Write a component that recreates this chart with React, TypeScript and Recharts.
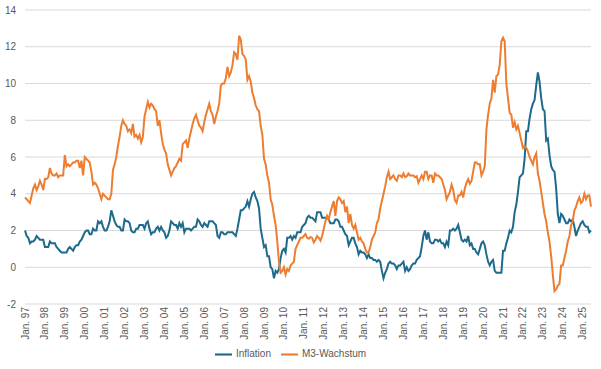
import React from 'react';
import { LineChart, Line, XAxis, YAxis, CartesianGrid, Legend } from 'recharts';

const startYear = 1997;
const monthAbbr = ['Jan.', 'Feb.', 'Mär.', 'Apr.', 'Mai', 'Jun.', 'Jul.', 'Aug.', 'Sep.', 'Okt.', 'Nov.', 'Dez.'];
const yTicks = [-2, 0, 2, 4, 6, 8, 10, 12, 14];

// Monthly values Jan 1997 – Jun 2025 (percent, y/y)
const inflation = [
  2.0, 1.7, 1.6, 1.3, 1.4, 1.4, 1.5, 1.7, 1.6, 1.5, 1.5, 1.5,
  1.1, 1.1, 1.1, 1.4, 1.3, 1.3, 1.3, 1.1, 1.0, 0.9, 0.8, 0.8,
  0.8, 0.8, 1.0, 1.1, 1.0, 0.9, 1.1, 1.2, 1.2, 1.4, 1.5, 1.7,
  1.9, 2.0, 2.0, 1.8, 1.8, 2.1, 2.0, 2.0, 2.5, 2.4, 2.5, 2.2,
  2.0, 2.0, 2.2, 2.5, 3.1, 2.8, 2.5, 2.3, 2.2, 2.2, 2.0, 2.0,
  2.6, 2.5, 2.5, 2.4, 2.0, 1.9, 1.9, 2.1, 2.1, 2.3, 2.3, 2.3,
  2.1, 2.4, 2.5, 2.1, 1.8, 1.9, 1.9, 2.1, 2.2, 2.0, 2.2, 2.0,
  1.9, 1.6, 1.7, 2.0, 2.5, 2.4, 2.3, 2.3, 2.1, 2.4, 2.2, 2.4,
  1.9, 2.1, 2.1, 2.1, 2.0, 2.1, 2.2, 2.2, 2.6, 2.5, 2.3, 2.2,
  2.4, 2.3, 2.2, 2.5, 2.5, 2.5, 2.4, 2.3, 1.7, 1.6, 1.9, 1.9,
  1.8, 1.8, 1.9, 1.9, 1.9, 1.9, 1.8, 1.7, 2.1, 2.6, 3.1, 3.1,
  3.2, 3.3, 3.6, 3.3, 3.7, 4.0, 4.1, 3.8, 3.6, 3.2, 2.1, 1.6,
  1.1, 1.2, 0.6, 0.6, 0.0, -0.1, -0.6, -0.2, -0.3, -0.1, 0.5, 0.9,
  1.0, 0.8, 1.6, 1.6, 1.7, 1.5, 1.7, 1.6, 1.9, 1.9, 1.9, 2.2,
  2.3, 2.4, 2.7, 2.8, 2.7, 2.7, 2.6, 2.5, 3.0, 3.0, 3.0, 2.7,
  2.7, 2.7, 2.7, 2.6, 2.4, 2.4, 2.4, 2.6, 2.6, 2.5, 2.2, 2.2,
  2.0, 1.8, 1.7, 1.2, 1.4, 1.6, 1.6, 1.3, 1.1, 0.7, 0.9, 0.8,
  0.8, 0.7, 0.5, 0.7, 0.5, 0.5, 0.4, 0.4, 0.3, 0.4, 0.3, -0.2,
  -0.6, -0.3, -0.1, 0.2, 0.3, 0.2, 0.2, 0.1, -0.1, 0.1, 0.1, 0.2,
  0.3, -0.2, 0.0, -0.2, -0.1, 0.1, 0.2, 0.2, 0.4, 0.5, 0.6, 1.1,
  1.7, 2.0, 1.5, 1.9, 1.4, 1.3, 1.3, 1.5, 1.5, 1.4, 1.5, 1.3,
  1.3, 1.1, 1.4, 1.2, 2.0, 2.0, 2.1, 2.0, 2.1, 2.3, 1.9, 1.5,
  1.4, 1.5, 1.4, 1.7, 1.2, 1.3, 1.0, 1.0, 0.8, 0.7, 1.0, 1.3,
  1.4, 1.2, 0.7, 0.3, 0.1, 0.3, 0.4, -0.2, -0.3, -0.3, -0.3, -0.3,
  0.9, 0.9, 1.3, 1.6, 2.0, 1.9, 2.2, 3.0, 3.4, 4.1, 4.9, 5.0,
  5.1, 5.9, 7.4, 7.4, 8.1, 8.6, 8.9, 9.1, 9.9, 10.6, 10.1, 9.2,
  8.6, 8.5, 6.9, 7.0, 6.1, 5.5, 5.3, 5.2, 4.3, 2.9, 2.4, 2.9,
  2.8, 2.6, 2.4, 2.4, 2.6, 2.5, 2.6, 2.2, 1.7, 2.0, 2.2, 2.4,
  2.5, 2.3, 2.2, 2.2, 1.9, 2.0,
];

const m3Growth = [
  3.8, 3.7, 3.6, 3.5, 3.9, 4.3, 4.5, 4.2, 4.4, 4.7, 4.5, 4.2,
  4.8, 4.8, 4.9, 5.4, 5.1, 5.0, 5.0, 5.1, 4.9, 5.0, 5.0, 5.0,
  6.1, 5.5, 5.6, 5.5, 5.6, 5.7, 5.7, 5.8, 5.8, 5.4, 5.8, 5.0,
  6.0, 5.9, 5.8, 5.7, 5.2, 4.5, 4.6, 4.5, 4.3, 4.0, 3.7, 4.0,
  3.9, 3.8, 3.7, 3.7, 4.0, 5.3, 5.6, 6.0, 6.6, 7.1, 7.7, 8.0,
  7.8, 7.7, 7.4, 7.5, 7.3, 7.8, 7.1, 7.2, 7.0, 7.2, 6.8, 7.1,
  8.2, 8.6, 9.0, 8.7, 8.9, 8.8, 8.6, 8.5, 7.7, 8.0, 7.3, 6.7,
  6.4, 6.2, 5.6, 5.3, 5.0, 5.2, 5.4, 5.5, 5.7, 5.9, 5.8, 6.7,
  6.8, 6.9, 6.5, 7.0, 7.4, 7.8, 8.1, 8.3, 8.0, 7.7, 7.6, 7.4,
  7.9, 8.3, 8.6, 8.9, 8.5, 8.3, 7.8, 8.2, 8.5, 8.9, 9.9, 10.0,
  10.0, 10.3, 10.9, 10.4, 10.6, 11.0, 11.7, 11.6, 11.3, 12.6, 12.4, 11.6,
  11.5, 11.3, 10.2, 10.4, 10.1, 9.5, 9.2, 8.8, 8.6, 8.5, 7.7, 7.2,
  5.9, 5.6, 5.0, 4.6, 3.7, 3.4, 2.8, 2.3, 1.4, 0.3, -0.3, -0.2,
  0.0, -0.4, -0.1, -0.2, 0.1, 0.2, 0.3, 1.0, 1.2, 1.4, 1.6, 1.6,
  1.7, 1.8, 1.6, 1.55, 1.65, 1.6, 1.35, 1.5, 1.7, 1.6, 1.45, 1.7,
  2.1, 2.5, 2.8, 2.6, 3.0, 3.3, 3.6, 2.8, 3.6, 3.8, 3.7, 3.5,
  3.6, 3.0, 3.3, 2.4, 2.9, 2.3, 2.1, 2.3, 1.9, 1.5, 1.6, 1.4,
  1.3, 1.0, 0.8, 0.8, 1.1, 1.5, 1.7, 1.9, 2.4, 2.6, 3.2, 3.6,
  4.0, 4.4, 4.9, 5.2, 4.8, 4.9, 5.0, 4.8, 4.7, 5.0, 5.0, 4.9,
  5.1, 4.9, 4.95, 5.1, 5.0, 5.0, 5.0, 4.9, 4.95, 4.6, 4.8, 5.0,
  4.8, 5.2, 5.2, 4.8, 5.0, 5.0, 4.6, 5.1, 5.0, 5.0, 4.9, 4.8,
  4.5, 4.2, 3.7, 3.9, 4.1, 4.5, 4.2, 3.65, 3.5, 3.9, 3.9, 4.1,
  3.8, 4.3, 4.6, 4.8, 4.55, 4.7, 5.2, 5.7, 5.7, 5.6, 5.6, 5.0,
  5.2, 5.5, 7.5, 8.3, 8.9, 9.2, 10.2, 9.5, 10.4, 10.5, 11.0, 12.3,
  12.5, 12.3, 10.0, 9.2, 8.4, 8.3, 7.6, 7.9, 7.5, 7.7, 7.3, 6.9,
  6.5, 6.6, 6.5, 6.3, 6.0, 5.8, 5.6, 6.0, 6.2, 5.1, 4.7, 4.1,
  3.5, 2.9, 2.5, 1.9, 1.4, 0.6, -0.4, -1.3, -1.2, -1.0, -0.9, 0.1,
  0.1, 0.5, 0.9, 1.4, 1.7, 2.3, 2.5, 3.1, 3.3, 3.6, 3.8, 3.5,
  3.6, 4.0, 3.7, 3.9, 3.9, 3.3,
];

const data = inflation.map((v, i) => ({
  label: `${monthAbbr[i % 12]} ${String((startYear + Math.floor(i / 12)) % 100).padStart(2, '0')}`,
  inflation: v,
  m3: m3Growth[i],
}));

const FONT = '"Liberation Sans", Arial, sans-serif';
const TEXT = '#595959';

const RotatedTick = (props: any) => {
  const { x, y, payload } = props;
  return (
    <g transform={`translate(${x},${y})`}>
      <text
        transform="rotate(-90)"
        x={0}
        y={0}
        dy="0.35em"
        textAnchor="end"
        fontSize={10}
        fontFamily={FONT}
        fill={TEXT}
      >
        {payload.value}
      </text>
    </g>
  );
};

export default function App() {
  return (
    <div style={{ position: 'absolute', left: 0, top: 0, width: 601, height: 369, background: '#fff' }}>
      <LineChart
        width={601}
        height={369}
        data={data}
        margin={{ top: 10, right: 10, left: 0, bottom: 6 }}
      >
        <CartesianGrid vertical={false} stroke="#d9d9d9" strokeWidth={1} />
        <XAxis
          dataKey="label"
          interval={11}
          axisLine={false}
          tickLine={false}
          tickSize={0}
          tickMargin={3}
          height={42}
          tick={<RotatedTick />}
        />
        <YAxis
          domain={[-2, 14]}
          ticks={yTicks}
          axisLine={false}
          tickLine={false}
          tickSize={0}
          tickMargin={9}
          width={25}
          tick={{ fontSize: 10, fill: TEXT, fontFamily: FONT }}
        />
        <Legend
          verticalAlign="bottom"
          iconType="plainline"
          iconSize={17}
          wrapperStyle={{ fontSize: 10, fontFamily: FONT }}
          formatter={(value: string) => <span style={{ color: TEXT }}>{value}</span>}
        />
        <Line
          type="linear"
          dataKey="inflation"
          name="Inflation"
          stroke="#1d6a8d"
          strokeWidth={2}
          dot={false}
          isAnimationActive={false}
        />
        <Line
          type="linear"
          dataKey="m3"
          name="M3-Wachstum"
          stroke="#ed7d31"
          strokeWidth={2}
          dot={false}
          isAnimationActive={false}
        />
      </LineChart>
    </div>
  );
}
